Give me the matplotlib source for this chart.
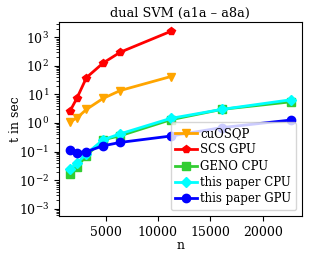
import matplotlib
matplotlib.use('Agg')
import matplotlib.pyplot as plt

# problem sizes a1a .. a8a
n_all = [1605, 2265, 3185, 4781, 6414, 11220, 16100, 22696]
n_short = n_all[:6]

t_cuosqp = [1.1, 1.5, 3.0, 7.3, 13.7, 42]
t_scs = [2.6, 7.3, 39, 126, 300, 1600]
t_geno = [0.016, 0.029, 0.073, 0.26, 0.36, 1.3, 3.0, 5.5]
t_cpu = [0.024, 0.039, 0.085, 0.26, 0.42, 1.45, 3.0, 6.5]
t_gpu = [0.11, 0.092, 0.10, 0.16, 0.21, 0.35, 0.69, 1.27]

plt.rcParams['font.family'] = 'DejaVu Serif'
plt.rcParams['font.size'] = 9

fig = plt.figure(figsize=(3.1, 2.59), dpi=100)
ax = fig.add_axes([0.19, 0.166, 0.784, 0.749])

ax.plot(n_short, t_cuosqp, color='orange', marker='v', lw=2, ms=6, label='cuOSQP')
ax.plot(n_short, t_scs, color='red', marker='p', lw=2, ms=6, label='SCS GPU')
ax.plot(n_all, t_geno, color='limegreen', marker='s', lw=2, ms=5.5, label='GENO CPU')
ax.plot(n_all, t_cpu, color='cyan', marker='D', lw=2, ms=5.5, label='this paper CPU')
ax.plot(n_all, t_gpu, color='blue', marker='o', lw=2, ms=6, label='this paper GPU')

ax.set_yscale('log')
ax.set_ylim(5.6e-4, 3.4e3)
ax.set_xticks([5000, 10000, 15000, 20000])
ax.set_xlabel('n', labelpad=0)
ax.set_ylabel('t in sec', labelpad=-2)
ax.set_title('dual SVM (a1a – a8a)', fontsize=9.3, pad=4)
ax.legend(loc='lower right', fontsize=8.5, handlelength=1.8, borderpad=0.4,
          labelspacing=0.28, handletextpad=0.3)

fig.savefig('out.png', dpi=100)
